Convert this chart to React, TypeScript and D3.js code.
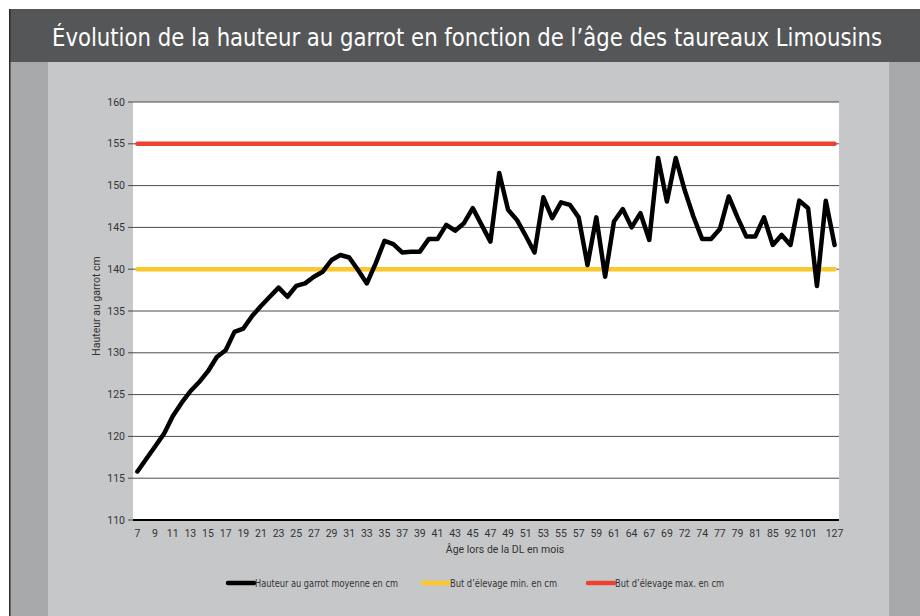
import React from "react";
import * as d3 from "d3";

const ages: number[] = [
  7, 8, 9, 10, 11, 12, 13, 14, 15, 16, 17, 18, 19, 20, 21, 22, 23, 24, 25, 26,
  27, 28, 29, 30, 31, 32, 33, 34, 35, 36, 37, 38, 39, 40, 41, 42, 43, 44, 45, 46,
  47, 48, 49, 50, 51, 52, 53, 54, 55, 56, 57, 58, 59, 60, 61, 62, 64, 66, 67, 68,
  69, 71, 72, 73, 74, 76, 77, 78, 79, 80, 81, 83, 85, 88, 92, 96, 101, 106, 115, 127,
];

const hauteur: number[] = [
  115.8, 117.3, 118.8, 120.3, 122.4, 124.0, 125.4, 126.5, 127.8, 129.5,
  130.3, 132.5, 132.9, 134.4, 135.6, 136.7, 137.8, 136.7, 138.0, 138.3,
  139.1, 139.7, 141.1, 141.7, 141.4, 139.9, 138.3, 140.7, 143.4, 143.0,
  142.0, 142.1, 142.1, 143.6, 143.6, 145.3, 144.6, 145.5, 147.3, 145.3,
  143.3, 151.5, 147.1, 145.9, 144.0, 142.0, 148.6, 146.1, 148.0, 147.7,
  146.2, 140.5, 146.2, 139.1, 145.7, 147.2, 145.0, 146.7, 143.5, 153.3,
  148.1, 153.3, 149.5, 146.3, 143.6, 143.6, 144.8, 148.7, 146.2, 143.9,
  143.9, 146.2, 142.9, 144.1, 142.9, 148.2, 147.3, 138.0, 148.2, 142.9,
];

const butMin: number[] = ages.map(() => 140);
const butMax: number[] = ages.map(() => 155);

const xTickLabels: number[] = [
  7, 9, 11, 13, 15, 17, 19, 21, 23, 25, 27, 29, 31, 33, 35, 37, 39, 41, 43, 45,
  47, 49, 51, 53, 55, 57, 59, 61, 64, 67, 69, 72, 74, 77, 79, 81, 85, 92, 101, 127,
];
const yTicks: number[] = [110, 115, 120, 125, 130, 135, 140, 145, 150, 155, 160];

const seriesNames: string[] = [
  "Hauteur au garrot moyenne en cm",
  "But d’élevage min. en cm",
  "But d’élevage max. en cm",
];
const seriesColors: string[] = ["#000000", "#FDC72B", "#EE4131"];

const title = "Évolution de la hauteur au garrot en fonction de l’âge des taureaux Limousins";
const yTitle = "Hauteur au garrot cm";
const xTitle = "Âge lors de la DL en mois";

const W = 920;
const H = 616;
const plot = { left: 133, right: 839, top: 102, bottom: 520 };
const fontMain = "'DejaVu Sans Condensed', 'Liberation Sans Narrow', Roboto, sans-serif";
const fontTick = "Roboto, 'Liberation Sans', sans-serif";

export default function App() {
  const x = d3
    .scaleBand<number>()
    .domain(ages)
    .range([plot.left, plot.right])
    .padding(0);
  const cx = (a: number) => (x(a) as number) + x.bandwidth() / 2;
  const y = d3.scaleLinear().domain([110, 160]).range([plot.bottom, plot.top]);

  const line = d3
    .line<number>()
    .x((_, i) => cx(ages[i]))
    .y((v) => y(v));

  const legendItems = [
    { x1: 228, x2: 254, tx: 255, tl: 143 },
    { x1: 423, x2: 449, tx: 450, tl: 107 },
    { x1: 588, x2: 614, tx: 615, tl: 109 },
  ];

  return (
    <svg
      width={W}
      height={H}
      style={{ position: "absolute", left: 0, top: 0, background: "#ffffff" }}
    >
      {/* frame */}
      <rect x={9} y={9} width={W - 9} height={H - 9} fill="#c6c7c9" />
      <rect x={9} y={62} width={39} height={H - 62} fill="#a8a9ab" />
      <rect x={889} y={62} width={W - 889} height={H - 62} fill="#a8a9ab" />
      <rect x={9} y={9} width={W - 9} height={53} fill="#555658" />
      <line x1={9.75} x2={9.75} y1={9} y2={H} stroke="#2a2a2a" strokeWidth={1.5} />

      <text
        x={52}
        y={46}
        fill="#ffffff"
        fontFamily={fontMain}
        fontSize={24}
        textLength={830}
        lengthAdjust="spacingAndGlyphs"
      >
        {title}
      </text>

      {/* plot area */}
      <rect
        x={plot.left}
        y={plot.top}
        width={plot.right - plot.left}
        height={plot.bottom - plot.top}
        fill="#ffffff"
      />

      {yTicks.map((t) => (
        <g key={t}>
          {t !== 110 && (
            <line
              x1={plot.left}
              x2={plot.right}
              y1={y(t)}
              y2={y(t)}
              stroke="#4a4a4a"
              strokeWidth={1}
            />
          )}
          <line x1={128} x2={plot.left} y1={y(t)} y2={y(t)} stroke="#4a4a4a" strokeWidth={1} />
          <text
            x={125}
            y={y(t)}
            dy="0.35em"
            textAnchor="end"
            fontFamily={fontTick}
            fontSize={10.5}
            fill="#333"
          >
            {t}
          </text>
        </g>
      ))}
      <line
        x1={plot.left}
        x2={plot.right}
        y1={y(110)}
        y2={y(110)}
        stroke="#000"
        strokeWidth={2}
      />

      {xTickLabels.map((a) => (
        <text
          key={a}
          x={cx(a)}
          y={537}
          textAnchor="middle"
          fontFamily={fontTick}
          fontSize={10.5}
          fill="#333"
        >
          {a}
        </text>
      ))}

      <text
        x={505}
        y={553}
        textAnchor="middle"
        fontFamily={fontTick}
        fontSize={10.5}
        fill="#333"
      >
        {xTitle}
      </text>
      <text
        transform={`translate(100,306) rotate(-90)`}
        textAnchor="middle"
        fontFamily={fontTick}
        fontSize={10.5}
        fill="#333"
      >
        {yTitle}
      </text>

      {/* series */}
      <path
        d={line(butMin) || ""}
        fill="none"
        stroke={seriesColors[1]}
        strokeWidth={4.5}
        strokeLinecap="round"
      />
      <path
        d={line(butMax) || ""}
        fill="none"
        stroke={seriesColors[2]}
        strokeWidth={4.5}
        strokeLinecap="round"
      />
      <path
        d={line(hauteur) || ""}
        fill="none"
        stroke={seriesColors[0]}
        strokeWidth={4.5}
        strokeLinejoin="round"
        strokeLinecap="round"
      />

      {/* legend */}
      {legendItems.map((l, i) => (
        <g key={i}>
          <line
            x1={l.x1}
            x2={l.x2}
            y1={583}
            y2={583}
            stroke={seriesColors[i]}
            strokeWidth={4.5}
            strokeLinecap="round"
          />
          <text
            x={l.tx}
            y={587}
            fontFamily={fontMain}
            fontSize={10.5}
            fill="#333"
            textLength={l.tl}
            lengthAdjust="spacingAndGlyphs"
          >
            {seriesNames[i]}
          </text>
        </g>
      ))}
    </svg>
  );
}
